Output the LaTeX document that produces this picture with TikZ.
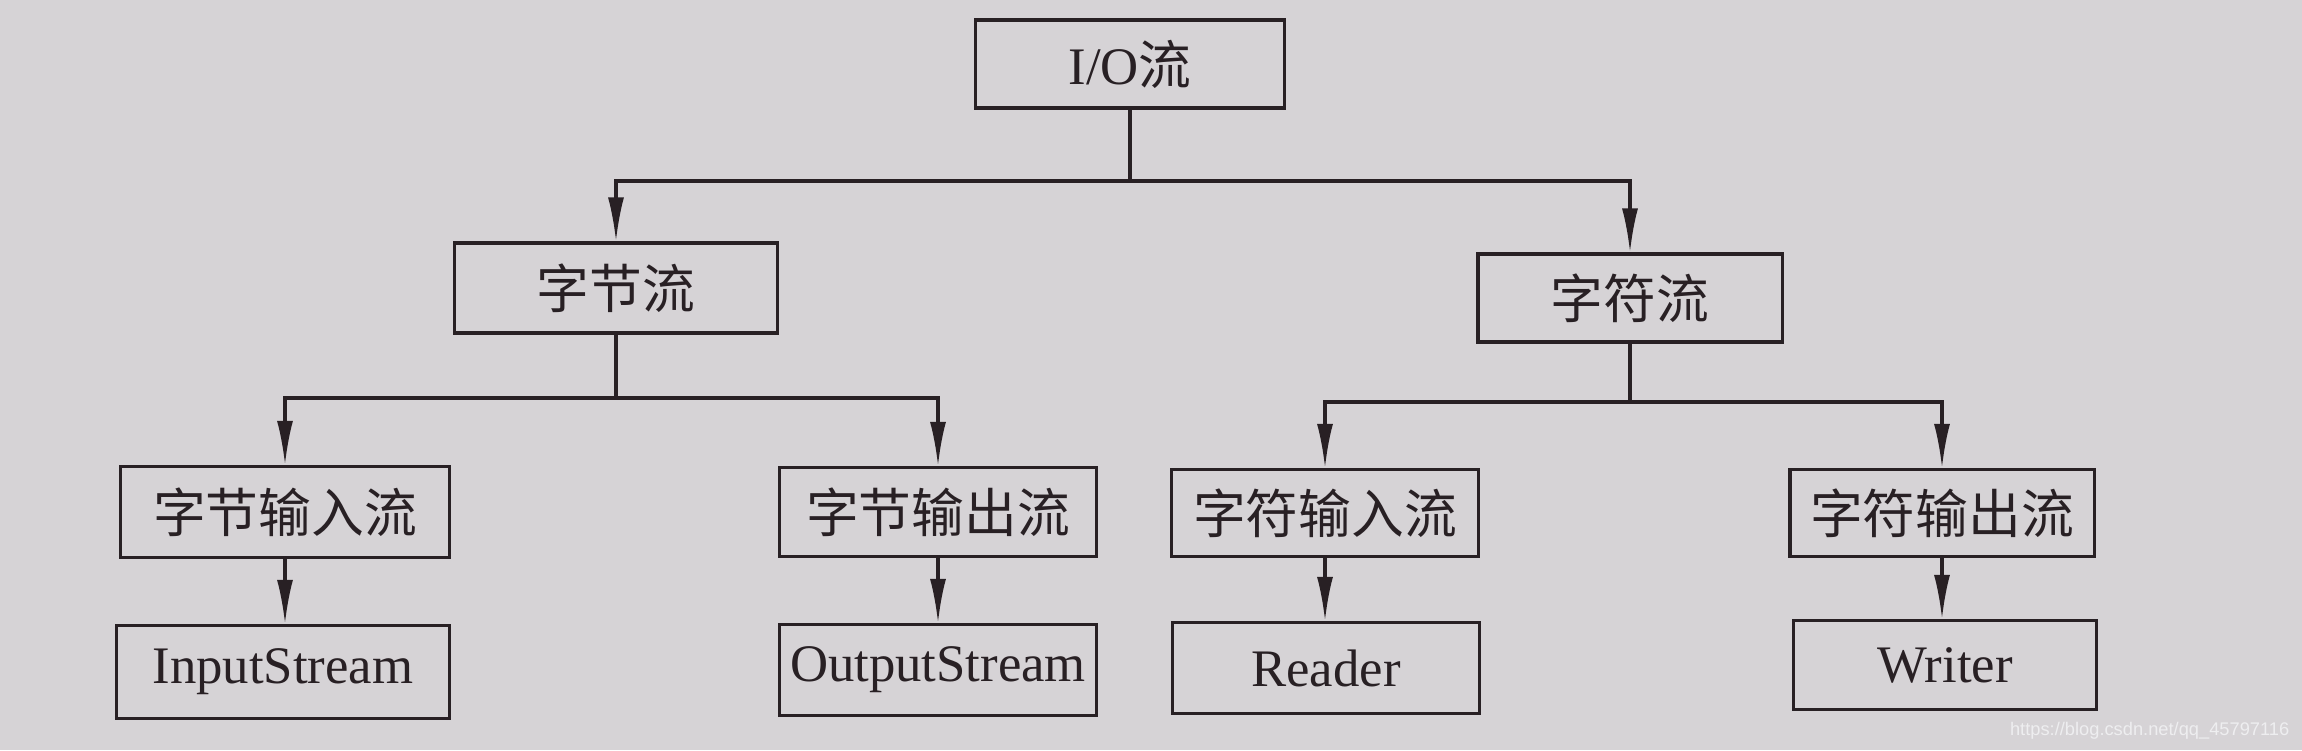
\documentclass[tikz,border=0pt]{standalone}
\usepackage{fontspec}
\setmainfont{Liberation Serif}
\newfontfamily\cjk{Noto Sans CJK SC}
\newfontfamily\wmfont{Liberation Sans}
\usetikzlibrary{arrows.meta}
\definecolor{paper}{RGB}{214,211,214}
\definecolor{ink}{RGB}{40,32,36}
\definecolor{wm}{RGB}{238,238,240}
\tikzset{
  box/.style={draw=ink, line width=0.9pt, minimum width=3.1cm, minimum height=0.89cm, inner sep=0pt, text=ink, font=\fontsize{15pt}{18pt}\selectfont},
  link/.style={draw=ink, line width=0.9pt},
  arr/.style={link, -{Latex[length=0.44cm, width=0.16cm]}}
}
\begin{document}
\begin{tikzpicture}[x=0.01cm, y=-0.01cm]
\fill[paper] (0,0) rectangle (2302,750);
\useasboundingbox (0,0) rectangle (2302,750);
% nodes
\node[box, minimum width=3.09cm, minimum height=0.88cm] (io) at (1130,64) {I/O{\cjk 流}};
\node[box, minimum width=3.22cm, minimum height=0.90cm] (bytes) at (616,288) {\cjk 字节流};
\node[box, minimum width=3.04cm, minimum height=0.88cm] (chars) at (1630,298) {\cjk 字符流};
\node[box, minimum width=3.29cm, minimum height=0.91cm] (bin) at (285,512) {\cjk 字节输入流};
\node[box, minimum width=3.16cm, minimum height=0.89cm] (bout) at (938,512) {\cjk 字节输出流};
\node[box, minimum width=3.07cm, minimum height=0.87cm] (cin) at (1325,513) {\cjk 字符输入流};
\node[box, minimum width=3.04cm, minimum height=0.87cm] (cout) at (1942,513) {\cjk 字符输出流};
\node[box, minimum width=3.32cm, minimum height=0.93cm] (is) at (283,672) {InputStream};
\node[box, minimum width=3.17cm, minimum height=0.91cm] (os) at (938,670) {OutputStream};
\node[box, minimum width=3.07cm, minimum height=0.91cm] (rd) at (1326,668) {Reader};
\node[box, minimum width=3.03cm, minimum height=0.89cm] (wr) at (1945,665) {Writer};
% bar levels
\coordinate (b1) at (0,181);
\coordinate (b2) at (0,398);
\coordinate (b3) at (0,402);
% connectors
\draw[link] (io.south) -- (io.south |- b1);
\draw[arr] (io.south |- b1) -| (bytes.north);
\draw[arr] (io.south |- b1) -| (chars.north);
\draw[link] (bytes.south) -- (bytes.south |- b2);
\draw[arr] (bytes.south |- b2) -| (bin.north);
\draw[arr] (bytes.south |- b2) -| (bout.north);
\draw[link] (chars.south) -- (chars.south |- b3);
\draw[arr] (chars.south |- b3) -| (cin.north);
\draw[arr] (chars.south |- b3) -| (cout.north);
\draw[arr] (bin.south) -- (bin.south |- is.north);
\draw[arr] (bout.south) -- (bout.south |- os.north);
\draw[arr] (cin.south) -- (cin.south |- rd.north);
\draw[arr] (cout.south) -- (cout.south |- wr.north);
% watermark
\node[text=wm, font=\wmfont\fontsize{5.2pt}{6pt}\selectfont, inner sep=0pt, anchor=east] (mark) at (2290,731) {https://blog.csdn.net/qq\_45797116};
\end{tikzpicture}
\end{document}
